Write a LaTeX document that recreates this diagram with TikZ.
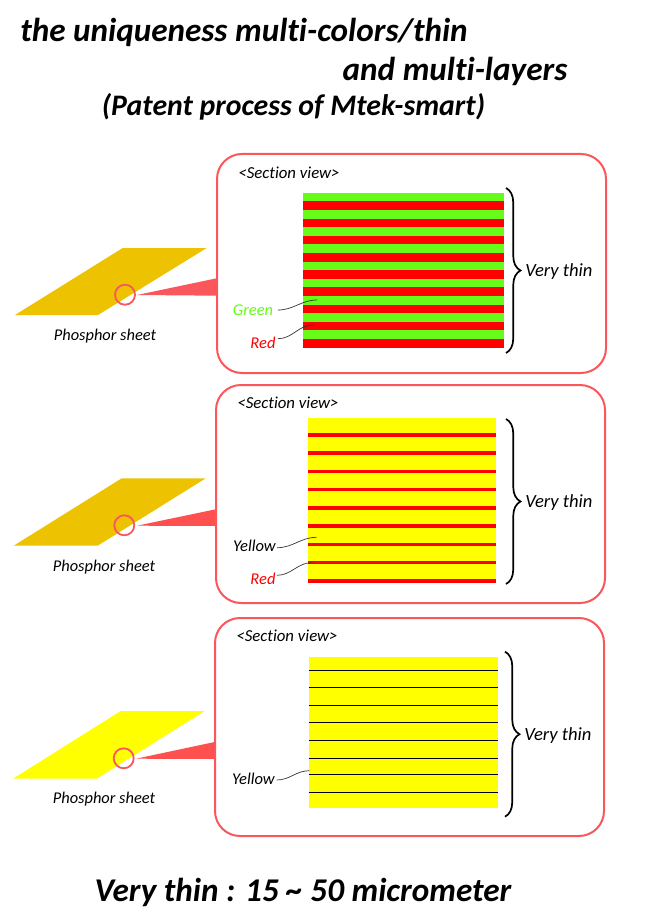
\documentclass[tikz,border=0pt]{standalone}
\usepackage{fontspec}
\setmainfont[Ligatures=NoCommon]{Carlito}
\usetikzlibrary{decorations.pathreplacing}
\definecolor{goldsheet}{HTML}{EDC200}
\definecolor{panelred}{HTML}{F9575C}
\definecolor{zoomred}{HTML}{FF5050}
\definecolor{layergreen}{HTML}{66FB19}
\definecolor{layerred}{HTML}{FF0000}
\definecolor{layeryellow}{HTML}{FFFF00}
\tikzset{
  headline/.style={font=\fontsize{33.2}{34}\selectfont\bfseries\itshape, inner sep=0pt},
  subline/.style={font=\fontsize{29.8}{30}\selectfont\bfseries\itshape, inner sep=0pt},
  sheetname/.style={font=\fontsize{16.4}{17}\selectfont\itshape, inner sep=0pt},
  sectionname/.style={font=\fontsize{16.8}{17}\selectfont\itshape, inner sep=0pt},
  thinname/.style={font=\fontsize{18.6}{19}\selectfont\itshape, inner sep=0pt},
  layername/.style={font=\fontsize{16.5}{17}\selectfont\itshape, inner sep=0pt},
  panelbox/.style={draw=panelred, line width=2pt, fill=white, rounded corners=25pt},
  lens/.style={draw=panelred, line width=1.8pt},
  leader/.style={draw=black!80, line width=0.7pt},
  thinbrace/.style={draw=black, line width=1.7pt, decorate, decoration={brace, amplitude=14.5pt}}
}
\begin{document}
\begin{tikzpicture}[x=1pt, y=-1pt]
\useasboundingbox (0, 0) rectangle (656, 912);
\node[headline] (titleA) at (244, 32) {the uniqueness multi-colors/thin};
\node[headline] (titleB) at (455, 71) {and multi-layers};
\node[subline] (titleC) at (293.5, 107) {(Patent process of Mtek-smart)};
\node[headline] (thickness) at (303, 892) {Very thin : 15 \textasciitilde{} 50 micrometer};

\fill[goldsheet] (15, 315) -- (122.7, 248) -- (206.7, 248) -- (98, 315) -- cycle;
\draw[lens] (125, 294.7) circle (10);
\fill[panelred] (137, 295) -- (218, 278) -- (218, 295.7) -- cycle;
\draw[panelbox] (217, 154) rectangle (606, 373);
\node[sheetname] (sheetA) at (105, 336) {Phosphor sheet};
\node[sectionname] (sectionA) at (289, 173) {<Section view>};
\foreach \i in {0, 1, ..., 8} {
  \fill[layergreen] (303, 192.7 + 17.22*\i) rectangle (504, 201.3 + 17.22*\i);
  \fill[layerred] (303, 201.3 + 17.22*\i) rectangle (504, 209.9 + 17.22*\i);
}
\coordinate (braceAtop) at (506, 188);
\coordinate (braceAend) at (506, 353);
\draw[thinbrace] (braceAtop) -- (braceAend);
\node[thinname] (thinA) at (559, 272) {Very thin};
\node[layername, text=layergreen] (greenA) at (253, 310) {Green};
\node[layername, text=layerred] (redA) at (263, 343) {Red};
\coordinate (greenAstart) at (278, 310);
\coordinate (greenAtip) at (317, 300);
\coordinate (redAstart) at (278, 338.7);
\coordinate (redAtip) at (313, 325);
\draw[leader] (greenAstart) to[out=0, in=180] (greenAtip);
\draw[leader] (redAstart) to[out=0, in=180] (redAtip);

\fill[goldsheet] (13.7, 545.7) -- (121.7, 478.3) -- (205.7, 478.3) -- (97.7, 545.7) -- cycle;
\draw[lens] (124.3, 525.3) circle (10);
\fill[zoomred] (137, 525.7) -- (217, 509) -- (217, 526) -- cycle;
\draw[panelbox] (216, 385) rectangle (605, 603);
\node[sheetname] (sheetB) at (104, 567) {Phosphor sheet};
\node[sectionname] (sectionB) at (288, 403) {<Section view>};
\fill[layeryellow] (308, 417.7) rectangle (496, 582.7);
\foreach \i in {0, 1, ..., 8} {
  \fill[layerred] (308, 433.2 + 18.22*\i) rectangle (496, 436.8 + 18.22*\i);
}
\coordinate (braceBtop) at (506, 419);
\coordinate (braceBend) at (506, 584);
\draw[thinbrace] (braceBtop) -- (braceBend);
\node[thinname] (thinB) at (559, 503) {Very thin};
\node[layername] (yellowB) at (254.5, 546) {Yellow};
\node[layername, text=layerred] (redB) at (263, 579) {Red};
\coordinate (yellowBstart) at (277, 547.7);
\coordinate (yellowBtip) at (316.7, 537.3);
\coordinate (redBstart) at (277, 575.3);
\coordinate (redBtip) at (311.7, 562.7);
\draw[leader] (yellowBstart) to[out=0, in=180] (yellowBtip);
\draw[leader] (redBstart) to[out=0, in=180] (redBtip);

\fill[layeryellow] (13, 778.7) -- (120.7, 711) -- (204.7, 711) -- (96.7, 778.7) -- cycle;
\draw[lens] (123.7, 758.3) circle (10);
\fill[zoomred] (136, 758.7) -- (216, 741.7) -- (216, 759) -- cycle;
\draw[panelbox] (215, 618) rectangle (604, 836);
\node[sheetname] (sheetC) at (104, 799) {Phosphor sheet};
\node[sectionname] (sectionC) at (287, 636) {<Section view>};
\fill[layeryellow] (309.3, 656.7) rectangle (498, 807.7);
\foreach \y in {670.7, 687.7, 705, 722.7, 740.3, 758.3, 774.7, 792} {
  \draw[black, line width=0.8pt] (309.3, \y) -- (498, \y);
}
\coordinate (braceCtop) at (505, 651.7);
\coordinate (braceCend) at (505, 816.7);
\draw[thinbrace] (braceCtop) -- (braceCend);
\node[thinname] (thinC) at (558, 736) {Very thin};
\node[layername] (yellowC) at (253.5, 779) {Yellow};
\coordinate (yellowCstart) at (276.7, 780);
\coordinate (yellowCtip) at (309.3, 770.7);
\draw[leader] (yellowCstart) to[out=0, in=180] (yellowCtip);
\end{tikzpicture}
\end{document}
